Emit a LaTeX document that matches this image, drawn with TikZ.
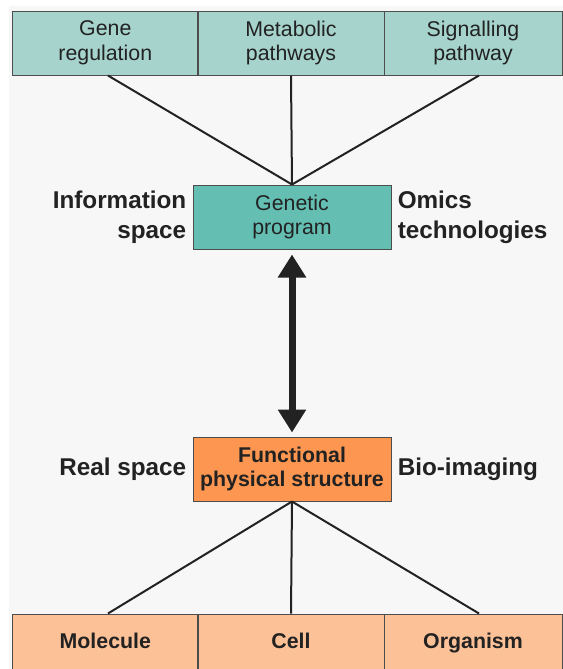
\documentclass[tikz,border=0pt]{standalone}
\usepackage{fontspec}
\setmainfont{Liberation Sans}
\usetikzlibrary{positioning,arrows.meta}
\definecolor{tealpale}{HTML}{A6D3CC}
\definecolor{tealmid}{HTML}{64BEB2}
\definecolor{orangemid}{HTML}{FC9650}
\definecolor{orangepale}{HTML}{FCC196}
\definecolor{panelgray}{HTML}{F7F7F7}
\definecolor{boxline}{HTML}{4D4D4D}
\definecolor{inkdark}{HTML}{222222}
\tikzset{
  cell/.style={draw=boxline, line width=0.75pt, align=center, inner sep=0pt,
    minimum height=48pt, text=inkdark, font=\fontsize{16}{18.5}\selectfont},
  base/.style={cell, fill=orangepale, minimum height=43.5pt, text height=11.5pt, text depth=3.5pt,
    font=\bfseries\fontsize{16}{18.5}\selectfont},
  side/.style={inner sep=0pt, text=inkdark, font=\bfseries\fontsize{18.2}{22.5}\selectfont},
  link/.style={draw=inkdark, line width=1.5pt},
  bigarrow/.style={{Triangle[length=17.25pt,width=20.25pt]}-{Triangle[length=17.25pt,width=20.25pt]},
    draw=inkdark, line width=5.25pt, shorten <=3.75pt, shorten >=3pt},
}
\begin{document}
\begin{tikzpicture}[x=0.75pt,y=-0.75pt]
  \useasboundingbox (0,0) rectangle (563,669);
  \fill[white] (0,0) rectangle (563,669);
  \fill[panelgray] (8.5,5.5) rectangle (563,669);
  \draw
    (105.3,43) node[cell, fill=tealpale, minimum width=139pt] (gene){Gene\\regulation}
    (291,43) node[cell, fill=tealpale, minimum width=139.5pt] (meta){Metabolic\\pathways}
    (473,43) node[cell, fill=tealpale, minimum width=133.5pt] (signal){Signalling\\pathway}
    (292,217) node[cell, fill=tealmid, minimum width=148.5pt] (genetic){Genetic\\program}
    (292,469) node[cell, fill=orangemid, minimum width=148.5pt,
      font=\bfseries\fontsize{16}{17.7}\selectfont] (struct){Functional\\physical structure}
    (105.3,643) node[base, minimum width=139pt] (molecule){Molecule}
    (291,643) node[base, minimum width=139.5pt] (cell){Cell}
    (473,643) node[base, minimum width=133.5pt] (organism){Organism};
  \node[side, align=right, left=4.5pt of genetic] (info){Information\\space};
  \node[side, align=left, right=4.5pt of genetic] (omics){Omics\\technologies};
  \node[side, left=4.5pt of struct] (real){Real space};
  \node[side, right=4.5pt of struct] (imaging){Bio-imaging};
  \begin{scope}[link]
    \draw ([xshift=2pt]gene.south) to (genetic.north);
    \draw (meta.south) to (genetic.north);
    \draw ([xshift=4.5pt]signal.south) to (genetic.north);
    \draw (struct.south) to ([xshift=2pt]molecule.north);
    \draw (struct.south) to (cell.north);
    \draw (struct.south) to ([xshift=4.5pt]organism.north);
  \end{scope}
  \draw[bigarrow] (genetic.south) -- (struct.north);
\end{tikzpicture}
\end{document}
